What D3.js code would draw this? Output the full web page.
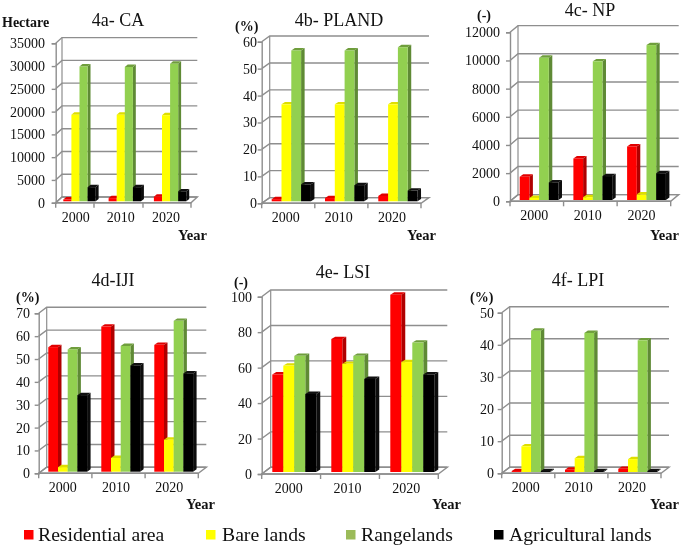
<!DOCTYPE html>
<html><head><meta charset="utf-8">
<script src="https://d3js.org/d3.v7.min.js"></script>
<style>html,body{margin:0;padding:0;background:#fff}svg{display:block;font-family:"Liberation Serif",serif;filter:blur(.3px)}</style>
</head><body><svg id="c" width="685" height="548"></svg>
<script>
const years = ["2000","2010","2020"];
const seriesNames = ["Residential area","Bare lands","Rangelands","Agricultural lands"];

const caResidential=[400,700,1000], caBare=[19000,19000,18900], caRange=[29600,29500,30200], caAgri=[3100,3100,2200];
const plandResidential=[0.8,1.2,2], plandBare=[36,36,36], plandRange=[56,56,57.2], plandAgri=[6.3,6,4];
const npResidential=[1650,2950,3800], npBare=[150,200,400], npRange=[10100,9850,11000], npAgri=[1250,1700,1900];
const ijiResidential=[54.5,63.5,55.5], ijiBare=[2,6,14], ijiRange=[53.5,55,66], ijiAgri=[33.5,46.5,43];
const lsiResidential=[55,75,100], lsiBare=[60,61,62], lsiRange=[65.5,65.5,73], lsiAgri=[44,52.5,55];
const lpiResidential=[0.3,0.7,1], lpiBare=[8,4.3,4], lpiRange=[44,43.3,41], lpiAgri=[0.3,0.3,0.3];

const yTicksCA=[0,5000,10000,15000,20000,25000,30000,35000];
const yTicksPLAND=[0,10,20,30,40,50,60];
const yTicksNP=[0,2000,4000,6000,8000,10000,12000];
const yTicksIJI=[0,10,20,30,40,50,60,70];
const yTicksLSI=[0,20,40,60,80,100];
const yTicksLPI=[0,10,20,30,40,50];

const frontColors=["#ff0000","#ffff00","#92d050","#000000"];
const sideColors=["#b00000","#c4c400","#5f8a35","#0d0d0d"];
const topColors=["#e00000","#dede00","#6f9e3c","#111111"];
const legendColors=["#ff0000","#ffff00","#9bbb59","#000000"];

const layout=[
 {title:"4a- CA",unit:"Hectare",vals:[caResidential,caBare,caRange,caAgri],ticks:yTicksCA,xTicks:[55.7,94,143,191],
  x0:55.7,x1:191,y0:202.7,yT:43.3,dx:6.3,dy:5.7,bx:63.3,w:8.1,pitch:45.3,base:201.3,tickR:45,ux:2,uy:27,tx:118,ty:26,yx:178,yy:240},
 {title:"4b- PLAND",unit:"(%)",vals:[plandResidential,plandBare,plandRange,plandAgri],ticks:yTicksPLAND,
  x0:261.7,x1:421,y0:203.3,yT:41.7,dx:8,dy:5.7,bx:271.7,w:9.8,pitch:53.3,base:201.3,tickR:257,ux:235,uy:31,tx:339,ty:26,yx:407,yy:240},
 {title:"4c- NP",unit:"(-)",vals:[npResidential,npBare,npRange,npAgri],ticks:yTicksNP,
  x0:510,x1:670.7,y0:201.3,yT:32.3,dx:8,dy:6.7,bx:519.7,w:9.7,pitch:53.7,base:200,tickR:500,ux:477,uy:20,tx:590,ty:16,yx:650,yy:240},
 {title:"4d-IJI",unit:"(%)",vals:[ijiResidential,ijiBare,ijiRange,ijiAgri],ticks:yTicksIJI,
  x0:38.7,x1:198.3,y0:473.3,yT:313.3,dx:8,dy:6,bx:48.3,w:9.7,pitch:53,base:471.7,tickR:30,ux:16,uy:302,tx:113,ty:286,yx:186,yy:509},
 {title:"4e- LSI",unit:"(-)",vals:[lsiResidential,lsiBare,lsiRange,lsiAgri],ticks:yTicksLSI,
  x0:261.7,x1:438.3,y0:474,yT:296.7,dx:9,dy:6.7,bx:272.3,w:11,pitch:59,base:472,tickR:252,ux:234,uy:287,tx:343,ty:278,yx:432,yy:509},
 {title:"4f- LPI",unit:"(%)",vals:[lpiResidential,lpiBare,lpiRange,lpiAgri],ticks:yTicksLPI,
  x0:501.7,x1:661,y0:473.3,yT:312.7,dx:8,dy:6,bx:511.7,w:9.7,pitch:53.3,base:472,tickR:494,ux:470,uy:302,tx:578,ty:286,yx:650,yy:509}
];

const svg=d3.select("#c");
const grey="#8e8e8e";
const poly=pts=>pts.map(p=>p.join(",")).join(" ");

layout.forEach(p=>{
  const g=svg.append("g");
  const maxV=p.ticks[p.ticks.length-1];
  const y=d3.scaleLinear().domain([0,maxV]).range([p.y0,p.yT]);
  const xAxisScale=d3.scaleBand().domain(years).range([p.x0,p.x1]);
  const xGroup=d3.scaleBand().domain(years).range([p.bx,p.bx+p.pitch*3]);
  const xBar=d3.scaleBand().domain(seriesNames).range([0,p.w*4]);
  const h=v=>p.y0-y(v);

  g.append("polygon").attr("points",poly([[p.x0,p.y0],[p.x1,p.y0],[p.x1+p.dx,p.y0-p.dy],[p.x0+p.dx,p.y0-p.dy]]))
    .attr("fill","#fff").attr("stroke",grey).attr("stroke-width",1.4);
  g.append("g").selectAll("polyline").data(p.ticks).join("polyline")
    .attr("points",d=>poly([[p.x0,y(d)],[p.x0+p.dx,y(d)-p.dy],[p.x1+p.dx,y(d)-p.dy]]))
    .attr("fill","none").attr("stroke",grey).attr("stroke-width",1.4);
  g.append("line").attr("x1",p.x0+p.dx).attr("x2",p.x0+p.dx).attr("y1",y(0)-p.dy).attr("y2",y(maxV)-p.dy)
    .attr("stroke",grey).attr("stroke-width",1.2);

  const axY=g.append("g").attr("transform",`translate(${p.x0},0)`)
    .call(d3.axisLeft(y).tickValues(p.ticks).tickSize(4).tickPadding(p.x0-p.tickR-4).tickFormat(d3.format("d")));
  axY.selectAll("path,line").attr("stroke",grey).attr("stroke-width",1.4);
  axY.selectAll("text").attr("font-size",14).attr("fill","#111").attr("font-family","Liberation Serif");

  const axX=g.append("g").attr("transform",`translate(-2.5,${p.y0})`)
    .call(d3.axisBottom(xAxisScale).tickSize(0).tickPadding(9));
  axX.select("path").remove();
  axX.selectAll("text").attr("font-size",14).attr("fill","#111").attr("font-family","Liberation Serif");
  const boundaries=p.xTicks||d3.range(4).map(i=>p.x0+i*xAxisScale.step());
  g.append("line").attr("x1",p.x0).attr("x2",p.x1).attr("y1",p.y0).attr("y2",p.y0).attr("stroke",grey).attr("stroke-width",1.4);
  g.append("g").selectAll("line").data(boundaries).join("line")
    .attr("x1",d=>d).attr("x2",d=>d).attr("y1",p.y0).attr("y2",p.y0+5).attr("stroke",grey).attr("stroke-width",1.4);

  const bd=p.w*0.36, bh=2.4;
  years.forEach((yr,yi)=>{
    seriesNames.forEach((s,si)=>{
      const v=p.vals[si][yi];
      const L=xGroup(yr)+xBar(s), R=L+xBar.bandwidth(), B=p.base, T=B-h(v);
      const bar=g.append("g");
      bar.append("polygon").attr("points",poly([[R,B],[R+bd,B-bh],[R+bd,T-bh],[R,T]])).attr("fill",sideColors[si]);
      bar.append("polygon").attr("points",poly([[L,T],[L+bd,T-bh],[R+bd,T-bh],[R,T]])).attr("fill",topColors[si]);
      bar.append("rect").attr("x",L).attr("y",T).attr("width",xBar.bandwidth()).attr("height",B-T).attr("fill",frontColors[si]);
    });
  });

  g.append("text").attr("x",p.tx).attr("y",p.ty).attr("text-anchor","middle").attr("font-size",18).attr("fill","#111").text(p.title);
  g.append("text").attr("x",p.ux).attr("y",p.uy).attr("font-size",14).attr("font-weight","bold").attr("fill","#111").text(p.unit);
  g.append("text").attr("x",p.yx).attr("y",p.yy).attr("font-size",14.5).attr("font-weight","bold").attr("fill","#111").text("Year");
});

const legendMarkX=[24,206,346,494], legendTextX=[38,222,361,509];
const lg=svg.append("g");
lg.selectAll("rect").data(seriesNames).join("rect")
  .attr("x",(d,i)=>legendMarkX[i]).attr("y",530).attr("width",9.5).attr("height",9.5).attr("fill",(d,i)=>legendColors[i]);
lg.selectAll("text").data(seriesNames).join("text")
  .attr("x",(d,i)=>legendTextX[i]).attr("y",541).attr("font-size",19.7).attr("fill","#111").text(d=>d);
</script></body></html>
